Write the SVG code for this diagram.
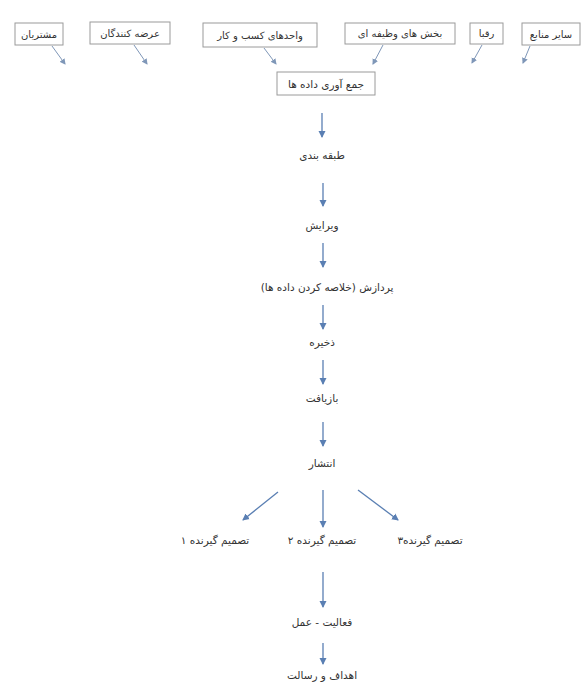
<svg xmlns="http://www.w3.org/2000/svg" width="585" height="682" viewBox="0 0 585 682">
<style>
.box{fill:#fff;stroke:#9a9a9a;stroke-width:1}
.t{font-family:"DejaVu Sans",sans-serif;font-size:10.5px;fill:#333;text-anchor:middle}
.tb{font-size:10px}
.c{stroke:#5a7fb3;stroke-width:1.3;fill:none;marker-end:url(#ah)}
.s{stroke:#7f97b8;stroke-width:1;fill:none;marker-end:url(#ah2)}
</style>
<defs>
<marker id="ah" markerWidth="8" markerHeight="8" refX="6" refY="4" orient="auto" markerUnits="userSpaceOnUse"><path d="M0,0.5 L7,4 L0,7.5 Z" fill="#5a7fb3"/></marker>
<marker id="ah2" markerWidth="7" markerHeight="7" refX="5" refY="3.5" orient="auto" markerUnits="userSpaceOnUse"><path d="M0,0.5 L6,3.5 L0,6.5 Z" fill="#7f97b8"/></marker>
</defs>
<rect width="585" height="682" fill="#fff"/>
<g id="n1"><rect class="box" x="15" y="23" width="48" height="22"/><text class="t tb" x="39" y="38">مشتریان</text></g>
<g id="n2"><rect class="box" x="90" y="22" width="80" height="22"/><text class="t tb" x="130" y="37">عرضه کنندگان</text></g>
<g id="n3"><rect class="box" x="203" y="23" width="114" height="24"/><text class="t tb" x="260" y="39">واحدهای کسب و کار</text></g>
<g id="n4"><rect class="box" x="345" y="23" width="110" height="21"/><text class="t tb" x="400" y="37">بخش های وظیفه ای</text></g>
<g id="n5"><rect class="box" x="470" y="23" width="33" height="21"/><text class="t tb" x="486.5" y="37">رقبا</text></g>
<g id="n6"><rect class="box" x="522" y="23" width="58" height="22"/><text class="t tb" x="551" y="38">سایر منابع</text></g>
<g id="n7"><rect class="box" x="277" y="72" width="98" height="23"/><text class="t" x="326" y="88">جمع آوری داده ها</text></g>
<g id="n8"><text class="t" x="322" y="159">طبقه بندی</text></g>
<g id="n9"><text class="t" x="322" y="229">ویرایش</text></g>
<g id="n10"><text class="t" x="327" y="291">پردازش (خلاصه کردن داده ها)</text></g>
<g id="n11"><text class="t" x="322" y="346">ذخیره</text></g>
<g id="n12"><text class="t" x="322" y="402">بازیافت</text></g>
<g id="n13"><text class="t" x="322" y="467">انتشار</text></g>
<g id="n14"><text class="t" x="215" y="544">تصمیم گیرنده ۱</text></g>
<g id="n15"><text class="t" x="322" y="544">تصمیم گیرنده ۲</text></g>
<g id="n16"><text class="t" x="430" y="544">تصمیم گیرنده۳</text></g>
<g id="n17"><text class="t" x="322" y="626">فعالیت - عمل</text></g>
<g id="n18"><text class="t" x="322" y="679">اهداف و رسالت</text></g>
<g id="connectors">
<path class="s" d="M52,46 L65,64"/>
<path class="s" d="M134,45 L147,64"/>
<path class="s" d="M264,48 L276,64"/>
<path class="s" d="M383,45 L373,64"/>
<path class="s" d="M482,45 L472,63"/>
<path class="s" d="M530,46 L523,63"/>
<path class="c" d="M322,113 L322,137"/>
<path class="c" d="M323,183 L323,206"/>
<path class="c" d="M323,243 L323,267"/>
<path class="c" d="M323,305 L323,329"/>
<path class="c" d="M323,360 L323,384"/>
<path class="c" d="M323,422 L323,446"/>
<path class="c" d="M278,492 L243,520"/>
<path class="c" d="M323,490 L323,527"/>
<path class="c" d="M358,490 L398,520"/>
<path class="c" d="M323,572 L323,607"/>
<path class="c" d="M323,643 L323,664"/>
</g>
</svg>
